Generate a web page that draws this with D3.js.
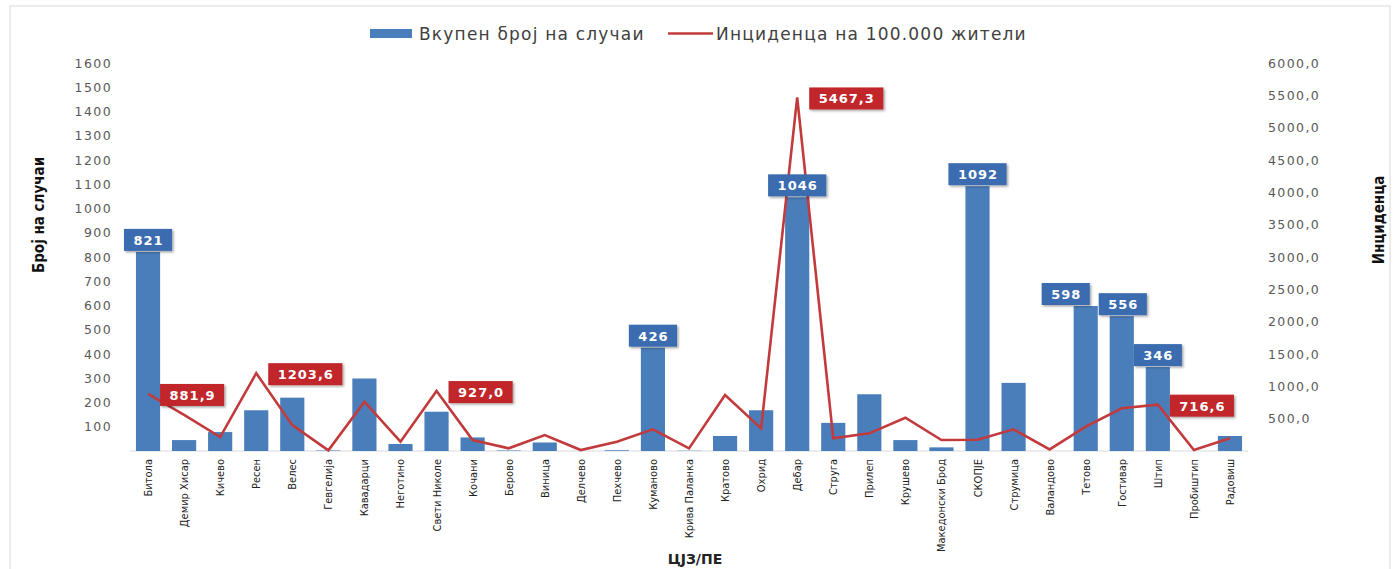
<!DOCTYPE html>
<html lang="mk">
<head>
<meta charset="UTF-8">
<title>Вкупен број на случаи и инциденца</title>
<script src="https://d3js.org/d3.v7.min.js"></script>
<style>
  body { margin: 0; background: #fff; }
  .tick text { fill: #595959; font-family: "DejaVu Sans", Verdana, sans-serif; font-size: 12.5px; letter-spacing: 1.4px; }
  .xlab text { font-family: "Liberation Sans Narrow", "DejaVu Sans Condensed", sans-serif; font-size: 11px; fill: #222; }
</style>
</head>
<body>
<svg id="chart" width="1398" height="569"></svg>
<script>
    const categories = ["Битола", "Демир Хисар", "Кичево", "Ресен", "Велес", "Гевгелија", "Кавадарци", "Неготино",
        "Свети Николе", "Кочани", "Берово", "Виница", "Делчево", "Пехчево", "Куманово", "Крива Паланка",
        "Кратово", "Охрид", "Дебар", "Струга", "Прилеп", "Крушево", "Македонски Брод", "СКОПЈЕ",
        "Струмица", "Валандово", "Тетово", "Гостивар", "Штип", "Пробиштип", "Радовиш"];

    const cases = [821, 45, 78, 168, 220, 2, 299, 29, 162, 56, 2, 35, 0, 3, 426, 1,
        62, 168, 1046, 116, 234, 45, 15, 1092, 281, 0, 598, 556, 346, 0, 62];

    const incidence = [881.9, 560, 216, 1203.6, 400, 10, 762, 144, 927.0, 170, 42, 247, 15, 144, 335, 40,
        866, 350, 5467.3, 196, 273, 515, 170, 175, 335, 25, 376, 660, 716.6, 15, 196];

    // which values get a data label
    const caseLabels = ["Битола", "Куманово", "Дебар", "СКОПЈЕ", "Тетово", "Гостивар", "Штип"];
    const incLabels = ["Битола", "Ресен", "Свети Николе", "Дебар", "Штип"];

    const leftTicks = d3.range(100, 1601, 100);
    const rightTicks = d3.range(500, 6001, 500);

    const svg = d3.select("#chart");
    const margin = {top: 63, left: 130, right: 150, bottom: 118};
    const width = 1398, height = 569;
    const plotW = width - margin.left - margin.right;
    const plotH = height - margin.top - margin.bottom;

    // chart frame
    svg.append("rect")
        .attr("x", 10).attr("y", 6).attr("width", 1380).attr("height", 600)
        .attr("fill", "none").attr("stroke", "#d9d9d9");

    const x = d3.scaleBand().domain(categories).range([0, plotW]).paddingInner(0.33).paddingOuter(0.165);
    const yL = d3.scaleLinear().domain([0, 1600]).range([plotH, 0]);
    const yR = d3.scaleLinear().domain([0, 6000]).range([plotH, 0]);

    const g = svg.append("g").attr("transform", `translate(${margin.left},${margin.top})`);

    g.append("g")
        .call(d3.axisLeft(yL).tickValues(leftTicks).tickSize(0).tickPadding(18).tickFormat(d3.format("d")))
        .call(a => a.select(".domain").remove());

    g.append("g")
        .attr("transform", `translate(${plotW},0)`)
        .call(d3.axisRight(yR).tickValues(rightTicks).tickSize(0).tickPadding(20)
            .tickFormat(d => d3.format(".1f")(d).replace(".", ",")))
        .call(a => a.select(".domain").remove());

    g.append("line")
        .attr("x1", 0).attr("x2", plotW).attr("y1", plotH).attr("y2", plotH)
        .attr("stroke", "#d9d9d9");

    // category labels
    g.append("g").attr("class", "xlab")
        .selectAll("text").data(categories).join("text")
        .attr("transform", d => `translate(${x(d) + x.bandwidth() / 2 + 4},${plotH + 8}) rotate(-90)`)
        .attr("text-anchor", "end")
        .text(d => d);

    // bars
    g.selectAll(".bar").data(categories).join("rect")
        .attr("class", "bar")
        .attr("x", d => x(d))
        .attr("width", x.bandwidth())
        .attr("y", (d, i) => yL(cases[i]))
        .attr("height", (d, i) => plotH - yL(cases[i]))
        .attr("fill", "#4a7ebb");

    // line
    const line = d3.line()
        .x((d, i) => x(categories[i]) + x.bandwidth() / 2)
        .y(d => yR(d));

    g.append("path")
        .datum(incidence)
        .attr("d", line)
        .attr("fill", "none")
        .attr("stroke", "#c23a3c")
        .attr("stroke-width", 2.6)
        .attr("stroke-linejoin", "miter");

    const defs = svg.append("defs");
    const f = defs.append("filter").attr("id", "shadow").attr("x", "-20%").attr("y", "-20%").attr("width", "150%").attr("height", "160%");
    f.append("feDropShadow").attr("dx", 1.5).attr("dy", 1.5).attr("stdDeviation", 1.2).attr("flood-color", "#000").attr("flood-opacity", 0.35);

    function box(cx, cy, txt, fill, anchor) {
        const h = 22;
        const bg = g.append("g");
        const r = bg.append("rect").attr("fill", fill).attr("filter", "url(#shadow)");
        const t = bg.append("text")
            .attr("text-anchor", "middle")
            .attr("fill", "#fff")
            .attr("font-family", "DejaVu Sans, Verdana, sans-serif")
            .attr("font-weight", "bold")
            .attr("font-size", 13)
            .attr("letter-spacing", 1)
            .text(txt);
        const w = t.node().getComputedTextLength() + 18;
        const left = anchor === "left" ? cx : cx - w / 2;
        r.attr("x", left).attr("y", cy - h / 2).attr("width", w).attr("height", h);
        t.attr("x", left + w / 2 + 0.5).attr("y", cy + 5);
    }

    // Tetovo label is pushed left so it does not collide with Gostivar
    const caseNudge = {"Тетово": -20, "Гостивар": 1};

    caseLabels.forEach(c => {
        const i = categories.indexOf(c);
        const cx = x(c) + x.bandwidth() / 2 + (caseNudge[c] || 0);
        box(cx, yL(cases[i]) - 12, String(cases[i]), "#3a6cb0", "center");
    });

    incLabels.forEach(c => {
        const i = categories.indexOf(c);
        const cx = x(c) + x.bandwidth() / 2 + 12;
        box(cx, yR(incidence[i]) + 1, d3.format(".1f")(incidence[i]).replace(".", ","), "#c0282c", "left");
    });

    // legend
    const lg = svg.append("g").attr("font-family", "DejaVu Sans, Verdana, sans-serif").attr("font-size", 17)
        .attr("letter-spacing", 1.2).attr("fill", "#404040");
    lg.append("rect").attr("x", 370).attr("y", 29).attr("width", 42).attr("height", 9).attr("fill", "#4a7ebb");
    lg.append("text").attr("x", 419).attr("y", 39.5).text("Вкупен број на случаи");
    lg.append("line").attr("x1", 668).attr("x2", 713).attr("y1", 33.5).attr("y2", 33.5).attr("stroke", "#c23a3c").attr("stroke-width", 2.6);
    lg.append("text").attr("x", 716).attr("y", 39.5).text("Инциденца на 100.000 жители");

    // axis titles
    svg.append("text")
        .attr("transform", "translate(44,215) rotate(-90)")
        .attr("text-anchor", "middle")
        .attr("font-family", "Liberation Sans Narrow, DejaVu Sans Condensed, sans-serif")
        .attr("font-weight", "bold").attr("font-size", 15).attr("fill", "#111")
        .text("Број на случаи");

    svg.append("text")
        .attr("transform", "translate(1384,220) rotate(-90)")
        .attr("text-anchor", "middle")
        .attr("font-family", "Liberation Sans Narrow, DejaVu Sans Condensed, sans-serif")
        .attr("font-weight", "bold").attr("font-size", 15).attr("fill", "#111")
        .text("Инциденца");

    svg.append("text")
        .attr("x", 695).attr("y", 564)
        .attr("text-anchor", "middle")
        .attr("font-family", "DejaVu Sans, Verdana, sans-serif")
        .attr("font-weight", "bold").attr("font-size", 14).attr("fill", "#222")
        .text("ЦЈЗ/ПЕ");
</script>
</body>
</html>
